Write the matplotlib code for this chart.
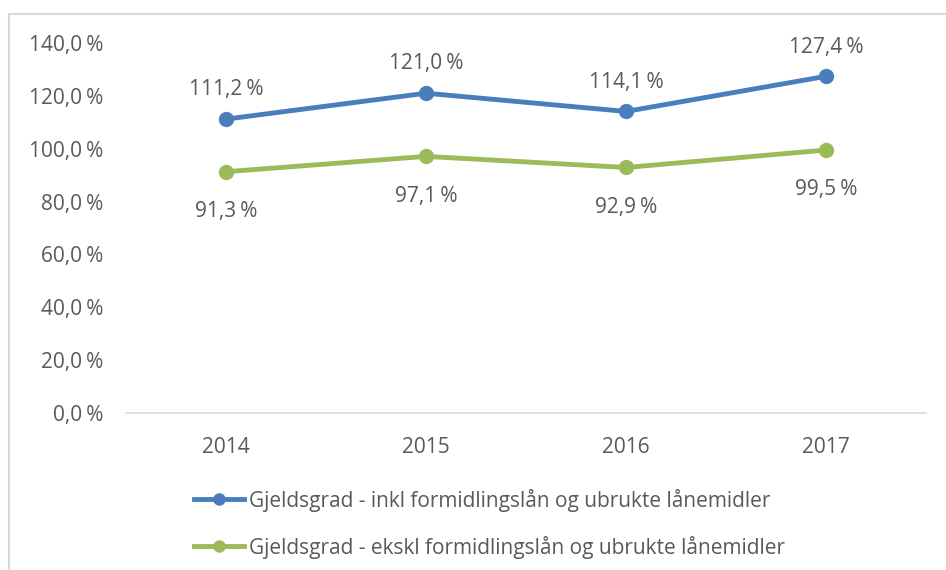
import matplotlib.pyplot as plt
from matplotlib.patches import Rectangle
from matplotlib.lines import Line2D

plt.rcParams['font.family'] = ['Open Sans', 'DejaVu Sans']

years = ['2014', '2015', '2016', '2017']
inkl = [111.2, 121.0, 114.1, 127.4]
ekskl = [91.3, 97.1, 92.9, 99.5]
series_names = ['Gjeldsgrad - inkl formidlingslån og ubrukte lånemidler',
                'Gjeldsgrad - ekskl formidlingslån og ubrukte lånemidler']
yticks = [0, 20, 40, 60, 80, 100, 120, 140]

blue = '#4A7EBB'
green = '#9BBB59'
txt = '#595959'
fs = 15

W, H = 946, 570
fig = plt.figure(figsize=(W / 100, H / 100), dpi=100)

# chart border
fig.patches.append(Rectangle((9 / W, -0.1), 1.2, 1 - 14 / H + 0.1, transform=fig.transFigure,
                             fill=False, edgecolor='#D9D9D9', linewidth=1.5))

ax = fig.add_axes([126 / W, 1 - 413 / H, 800 / W, 370 / H])
x = range(len(years))
ax.plot(x, inkl, color=blue, lw=3.5, marker='o', ms=10, solid_capstyle='round')
ax.plot(x, ekskl, color=green, lw=3.5, marker='o', ms=10, solid_capstyle='round')

def fmt(v):
    return f'{v:.1f}'.replace('.', ',') + '\u202f%'

for i, v in enumerate(inkl):
    ax.annotate(fmt(v), (i, v), xytext=(0, 13.5), textcoords='offset points',
                ha='center', va='bottom', fontsize=fs, color=txt)
for i, v in enumerate(ekskl):
    ax.annotate(fmt(v), (i, v), xytext=(0, -21), textcoords='offset points',
                ha='center', va='top', fontsize=fs, color=txt)

ax.set_xlim(-0.5, 3.5)
ax.set_ylim(0, 140)
ax.set_yticks(yticks)
ax.set_yticklabels([fmt(t) for t in yticks])
ax.set_xticks(list(x))
ax.set_xticklabels(years)
ax.tick_params(axis='both', length=0, labelsize=fs, labelcolor=txt)
ax.tick_params(axis='y', pad=16.5)
ax.tick_params(axis='x', pad=17)
for s in ['top', 'right', 'left']:
    ax.spines[s].set_visible(False)
ax.spines['bottom'].set_color('#D9D9D9')
ax.spines['bottom'].set_linewidth(1.2)

handles = [Line2D([], [], color=blue, lw=3.5, marker='o', ms=8),
           Line2D([], [], color=green, lw=3.5, marker='o', ms=8)]
fig.legend(handles, series_names, loc='upper left', bbox_to_anchor=(175 / W, 1 - 470 / H),
           frameon=False, fontsize=fs, labelcolor=txt, handlelength=2.4,
           handletextpad=0.25, labelspacing=1.15)

fig.savefig('out.png', dpi=100)
